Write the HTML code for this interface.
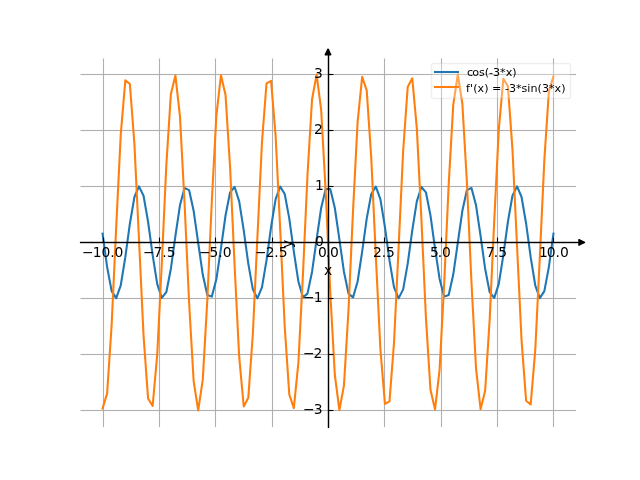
<!DOCTYPE html>
<html><head><meta charset="utf-8"><title>plot</title>
<style>html,body{margin:0;padding:0;background:#fff;overflow:hidden}svg{display:block}</style></head>
<body>
<svg width="640" height="480" viewBox="0 0 640 480">
<clipPath id="ax"><rect x="80" y="57.6" width="496" height="370.08"/></clipPath>
<clipPath id="gx"><rect x="80.5" y="58.5" width="495.5" height="368.5"/></clipPath>
<rect width="640" height="480" fill="#fff"/>
<g fill="#b0b0b0" clip-path="url(#gx)">
<rect x="102.945" y="57" width="1.11" height="372"/>
<rect x="158.945" y="57" width="1.11" height="372"/>
<rect x="214.945" y="57" width="1.11" height="372"/>
<rect x="271.945" y="57" width="1.11" height="372"/>
<rect x="327.945" y="57" width="1.11" height="372"/>
<rect x="383.945" y="57" width="1.11" height="372"/>
<rect x="440.945" y="57" width="1.11" height="372"/>
<rect x="496.945" y="57" width="1.11" height="372"/>
<rect x="552.945" y="57" width="1.11" height="372"/>
<rect x="79" y="73.945" width="498" height="1.11"/>
<rect x="79" y="129.945" width="498" height="1.11"/>
<rect x="79" y="185.945" width="498" height="1.11"/>
<rect x="79" y="241.945" width="498" height="1.11"/>
<rect x="79" y="297.945" width="498" height="1.11"/>
<rect x="79" y="353.945" width="498" height="1.11"/>
<rect x="79" y="409.945" width="498" height="1.11"/>
</g>
<g fill="none" stroke-width="2.083" stroke-linejoin="round" stroke-linecap="square" clip-path="url(#ax)">
<polyline stroke="#1f77b4" points="102.55,233.76 107.10,266.82 111.65,291.18 116.21,298.16 120.76,285.28 125.32,257.13 129.87,223.73 134.43,196.98 138.98,186.41 143.54,195.78 148.09,221.76 152.65,255.09 157.20,283.90 161.76,297.93 166.31,292.18 170.87,268.69 175.42,235.84 179.97,205.33 184.53,188.02 189.08,190.08 193.64,210.78 198.19,242.74 202.75,274.58 207.30,294.95 211.86,296.61 216.41,278.96 220.97,248.28 225.52,215.51 230.08,192.32 234.63,186.96 239.18,201.36 243.74,230.37 248.29,263.67 252.85,289.39 257.40,298.37 261.96,287.42 266.51,260.43 271.07,227.02 275.62,199.09 280.18,186.58 284.73,193.96 289.29,218.59 293.84,251.71 298.39,281.50 302.95,297.37 307.50,293.66 312.06,271.69 316.61,239.29 321.17,207.99 325.72,188.95 330.28,188.95 334.83,207.99 339.39,239.29 343.94,271.69 348.50,293.66 353.05,297.37 357.61,281.50 362.16,251.71 366.71,218.59 371.27,193.96 375.82,186.58 380.38,199.09 384.93,227.02 389.49,260.43 394.04,287.42 398.60,298.37 403.15,289.39 407.71,263.67 412.26,230.37 416.82,201.36 421.37,186.96 425.92,192.32 430.48,215.51 435.03,248.28 439.59,278.96 444.14,296.61 448.70,294.95 453.25,274.58 457.81,242.74 462.36,210.78 466.92,190.08 471.47,188.02 476.03,205.33 480.58,235.84 485.13,268.69 489.69,292.18 494.24,297.93 498.80,283.90 503.35,255.09 507.91,221.76 512.46,195.78 517.02,186.41 521.57,196.98 526.13,223.73 530.68,257.13 535.24,285.28 539.79,298.16 544.35,291.18 548.90,266.82 553.45,233.76"/>
<polyline stroke="#ff7f0e" points="102.55,408.39 107.10,393.59 111.65,324.93 116.21,226.88 120.76,134.35 125.32,80.31 129.87,84.01 134.43,144.12 138.98,239.25 143.54,335.49 148.09,398.58 152.65,406.03 157.20,355.20 161.76,264.19 166.31,165.42 170.87,94.07 175.42,75.55 179.97,116.47 184.53,202.24 189.08,302.32 193.64,381.06 198.19,410.40 202.75,379.90 207.30,300.42 211.86,200.28 216.41,115.14 220.97,75.33 225.52,95.03 230.08,167.22 234.63,266.20 239.18,356.69 243.74,406.48 248.29,397.82 252.85,333.80 257.40,237.22 261.96,142.49 266.51,83.34 271.07,80.86 275.62,135.91 280.18,228.90 284.73,326.69 289.29,394.46 293.84,408.07 298.39,362.66 302.95,274.42 307.50,174.77 312.06,99.21 316.61,74.66 321.17,109.85 325.72,192.27 330.28,292.53 334.83,374.95 339.39,410.14 343.94,385.59 348.50,310.03 353.05,210.38 357.61,122.14 362.16,76.73 366.71,90.34 371.27,158.11 375.82,255.90 380.38,348.89 384.93,403.94 389.49,401.46 394.04,342.31 398.60,247.58 403.15,151.00 407.71,86.98 412.26,78.32 416.82,128.11 421.37,218.60 425.92,317.58 430.48,389.77 435.03,409.47 439.59,369.66 444.14,284.52 448.70,184.38 453.25,104.90 457.81,74.40 462.36,103.74 466.92,182.48 471.47,282.56 476.03,368.33 480.58,409.25 485.13,390.73 489.69,319.38 494.24,220.61 498.80,129.60 503.35,78.77 507.91,86.22 512.46,149.31 517.02,245.55 521.57,340.68 526.13,400.79 530.68,404.49 535.24,350.45 539.79,257.92 544.35,159.87 548.90,91.21 553.45,76.41"/>
</g>
<g stroke="#000" stroke-width="1.11" fill="none">
<line x1="103.5" y1="242.5" x2="103.5" y2="237.55"/>
<line x1="159.5" y1="242.5" x2="159.5" y2="237.55"/>
<line x1="215.5" y1="242.5" x2="215.5" y2="237.55"/>
<line x1="272.5" y1="242.5" x2="272.5" y2="237.55"/>
<line x1="328.5" y1="242.5" x2="328.5" y2="237.55"/>
<line x1="384.5" y1="242.5" x2="384.5" y2="237.55"/>
<line x1="441.5" y1="242.5" x2="441.5" y2="237.55"/>
<line x1="497.5" y1="242.5" x2="497.5" y2="237.55"/>
<line x1="553.5" y1="242.5" x2="553.5" y2="237.55"/>
<line x1="328.5" y1="74.5" x2="333.45" y2="74.5"/>
<line x1="328.5" y1="130.5" x2="333.45" y2="130.5"/>
<line x1="328.5" y1="186.5" x2="333.45" y2="186.5"/>
<line x1="328.5" y1="242.5" x2="333.45" y2="242.5"/>
<line x1="328.5" y1="298.5" x2="333.45" y2="298.5"/>
<line x1="328.5" y1="354.5" x2="333.45" y2="354.5"/>
<line x1="328.5" y1="410.5" x2="333.45" y2="410.5"/>
</g>
<g stroke="#000" stroke-width="1.389" stroke-linecap="round" stroke-linejoin="round">
<rect stroke="none" x="79.92" y="241.8" width="504.58" height="1.4"/>
<path fill="#000" d="M578.94 239.62L584.5 242.4L578.94 245.18Z"/>
<rect stroke="none" x="327.8" y="49.2" width="1.4" height="378.88"/>
<path fill="#000" d="M325.22 54.75L328 49.15L330.78 54.75Z"/>
</g>
<rect x="431.5" y="63.5" width="139" height="35" rx="2.2" ry="2.2" fill="#fff" stroke="#ccc" stroke-width="1.389" opacity="0.3"/>
<g fill="none" stroke-width="2.083" stroke-linecap="square">
<line stroke="#1f77b4" x1="435" y1="72" x2="458" y2="72"/>
<line stroke="#ff7f0e" x1="435" y1="87" x2="458" y2="87"/>
</g>
<g font-family="'DejaVu Sans', 'Liberation Sans', sans-serif" fill="#000">
<text id="xt0" font-size="13.889" x="81.98 92.86 101.44 110.25 114.42" y="257">−10.0</text>
<text id="xt1" font-size="13.889" x="142.90 153.52 162.35 166.76" y="257">−7.5</text>
<text id="xt2" font-size="13.889" x="198.90 209.52 218.35 222.76" y="257">−5.0</text>
<text id="xt3" font-size="13.889" x="254.90 265.77 274.35 278.76" y="257">−2.5</text>
<text id="xt4" font-size="13.889" x="317.96 325.77 329.95" y="257">0.0</text>
<text id="xt5" font-size="13.889" x="372.96 381.77 385.95" y="257">2.5</text>
<text id="xt6" font-size="13.889" x="429.96 437.77 441.95" y="257">5.0</text>
<text id="xt7" font-size="13.889" x="485.96 493.77 498.20" y="257">7.5</text>
<text id="xt8" font-size="13.889" x="539.05 546.86 555.44 560.11" y="257">10.0</text>
<text id="yt0" font-size="13.889" x="314.06" y="78">3</text>
<text id="yt1" font-size="13.889" x="314.06" y="134">2</text>
<text id="yt2" font-size="13.889" x="315.06" y="190">1</text>
<text id="yt3" font-size="13.889" x="315.06" y="246">0</text>
<text id="yt4" font-size="13.889" x="302.92 313.80" y="302">−1</text>
<text id="yt5" font-size="13.889" x="302.92 313.55" y="358">−2</text>
<text id="yt6" font-size="13.889" x="302.92 313.80" y="414">−3</text>
<text id="xl" font-size="13.889" x="323.89" y="275">x</text>
<text id="yl" font-size="13.889" transform="translate(291.58 243.90) rotate(-90)" text-anchor="middle">y</text>
<text id="lg0" font-size="11.111" x="466.99 472.33 478.88 484.68 489.01 493.02 500.08 505.65 512.21" y="76">cos(-3*x)</text>
<text id="lg1" font-size="11.111" x="465.99 469.90 473.19 477.54 484.35 485.44 491.97 498.29 505.07 509.07 515.88 521.44 527.22 530.57 537.61 541.94 549.01 554.57 561.15" y="92">f'(x) = -3*sin(3*x)</text>
</g>
</svg>
</body></html>
